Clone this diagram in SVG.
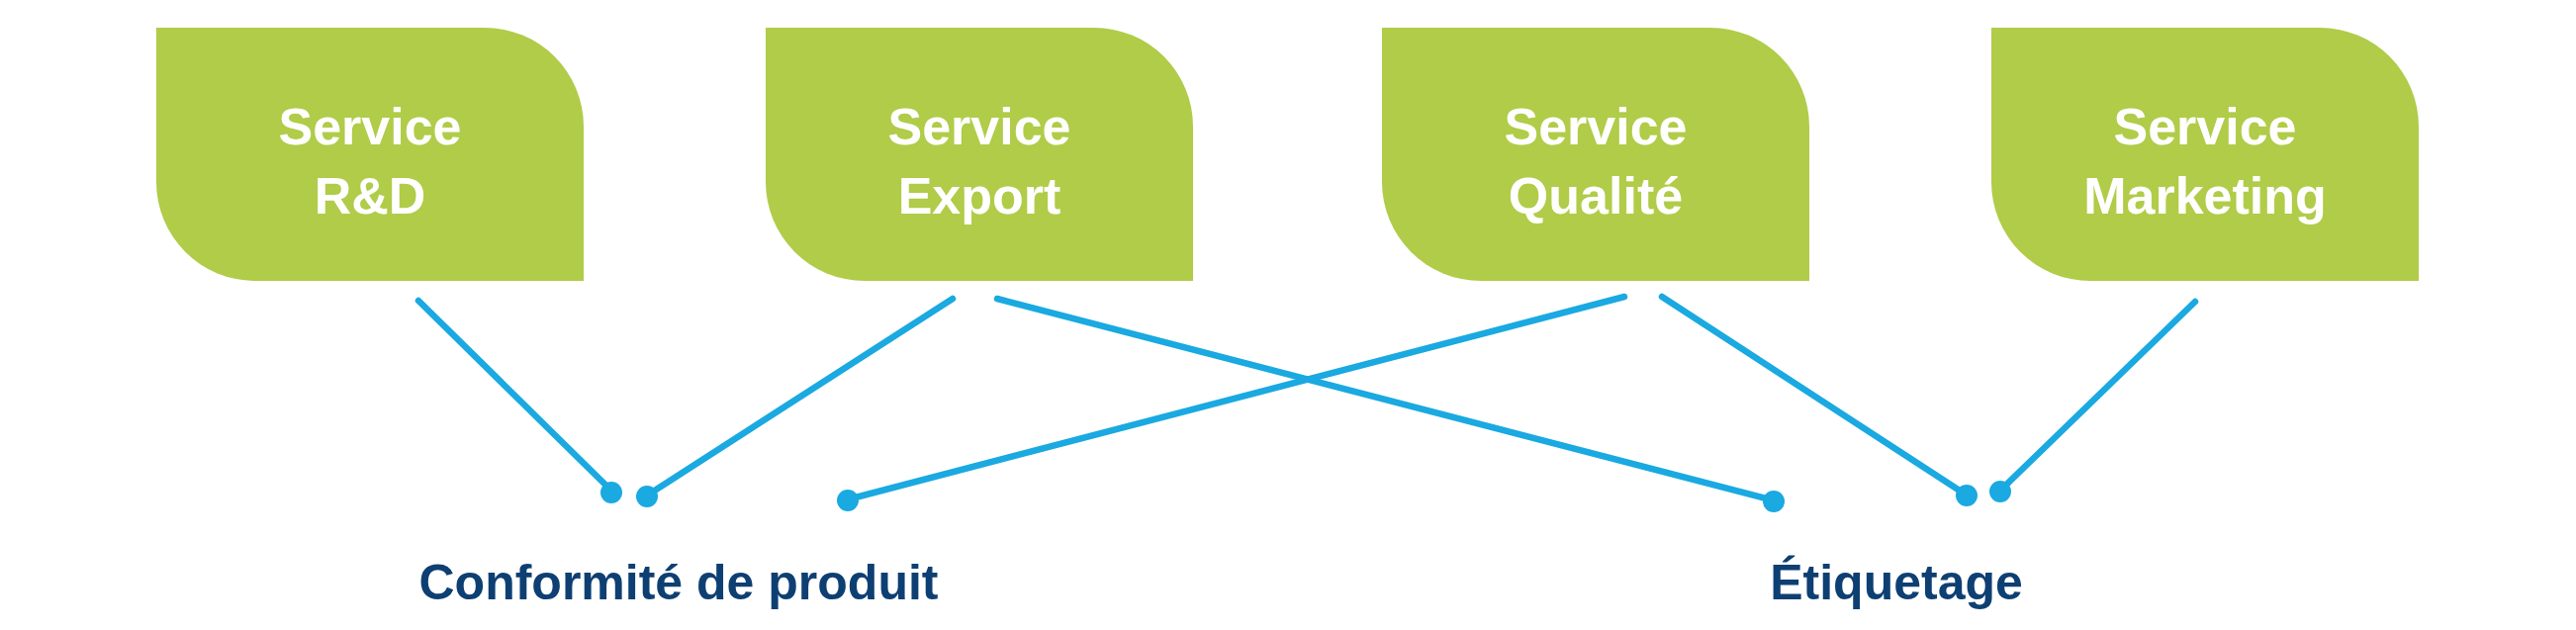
<svg xmlns="http://www.w3.org/2000/svg" width="2604" height="637" viewBox="0 0 2604 637">
<style>
.box{fill:#b0cc48}
.bt{font-family:"Liberation Sans",Arial,sans-serif;font-weight:bold;font-size:52px;fill:#fff;text-anchor:middle}
.lt{font-family:"Liberation Sans",Arial,sans-serif;font-weight:bold;font-size:50px;fill:#0e3f73;text-anchor:middle}
.c line{stroke:#1aa9e1;stroke-width:6.5;stroke-linecap:round}
.c circle{fill:#1aa9e1}
</style>
<rect width="2604" height="637" fill="#fff"/>
<g id="rd"><path class="box" d="M158 28H490A100 100 0 0 1 590 128V284H258A100 100 0 0 1 158 184Z"/><text class="bt" x="374" y="146">Service</text><text class="bt" x="374" y="216">R&amp;D</text></g>
<g id="export"><path class="box" d="M774 28H1106A100 100 0 0 1 1206 128V284H874A100 100 0 0 1 774 184Z"/><text class="bt" x="990" y="146">Service</text><text class="bt" x="990" y="216">Export</text></g>
<g id="qualite"><path class="box" d="M1397 28H1729A100 100 0 0 1 1829 128V284H1497A100 100 0 0 1 1397 184Z"/><text class="bt" x="1613" y="146">Service</text><text class="bt" x="1613" y="216">Qualité</text></g>
<g id="marketing"><path class="box" d="M2013 28H2345A100 100 0 0 1 2445 128V284H2113A100 100 0 0 1 2013 184Z"/><text class="bt" x="2229" y="146">Service</text><text class="bt" x="2229" y="216">Marketing</text></g>
<g id="conformite"><text class="lt" x="686" y="606">Conformité de produit</text></g>
<g id="etiquetage"><text class="lt" x="1917" y="606">Étiquetage</text></g>
<g id="connectors" class="c">
<line x1="423" y1="304" x2="618" y2="496"/><circle cx="618" cy="498" r="11"/>
<line x1="963" y1="302" x2="654" y2="501"/><circle cx="654" cy="502" r="11"/>
<line x1="1008" y1="302" x2="1793" y2="506"/><circle cx="1793" cy="507" r="11"/>
<line x1="1642" y1="300" x2="857" y2="505"/><circle cx="857" cy="506" r="11"/>
<line x1="1680" y1="300" x2="1987" y2="500"/><circle cx="1988" cy="501" r="11"/>
<line x1="2219" y1="305" x2="2022" y2="496"/><circle cx="2022" cy="497" r="11"/>
</g>
</svg>
